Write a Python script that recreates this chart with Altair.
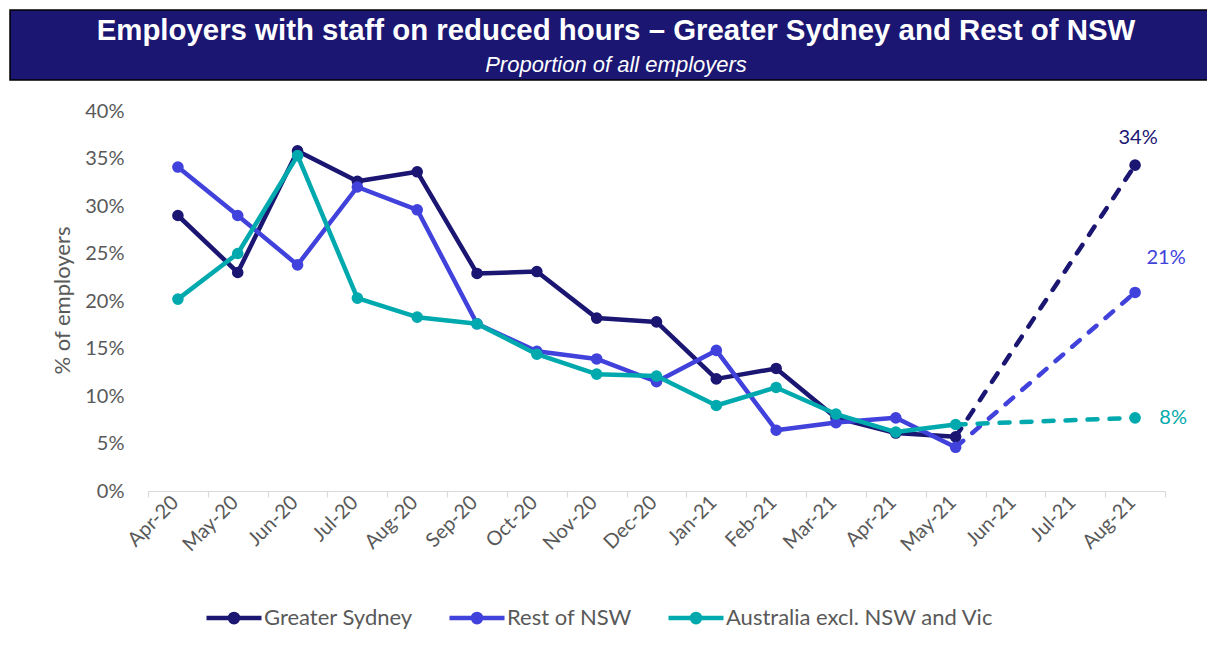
import altair as alt
import pandas as pd

months = ["Apr-20", "May-20", "Jun-20", "Jul-20", "Aug-20", "Sep-20", "Oct-20", "Nov-20",
          "Dec-20", "Jan-21", "Feb-21", "Mar-21", "Apr-21", "May-21", "Jun-21", "Jul-21", "Aug-21"]
series_names = ["Greater Sydney", "Rest of NSW", "Australia excl. NSW and Vic"]
greater_sydney = [29.0, 23.0, 35.8, 32.6, 33.6, 22.9, 23.1, 18.2, 17.8, 11.8, 12.9, 7.7, 6.1, 5.7, None, None, 34.3]
rest_of_nsw = [34.1, 29.0, 23.8, 32.0, 29.6, 17.6, 14.7, 13.9, 11.5, 14.8, 6.4, 7.2, 7.7, 4.6, None, None, 20.9]
australia = [20.2, 25.0, 35.3, 20.3, 18.3, 17.6, 14.4, 12.3, 12.1, 9.0, 10.9, 8.1, 6.2, 7.0, None, None, 7.7]
y_ticks = [0, 5, 10, 15, 20, 25, 30, 35, 40]

title_text = "Employers with staff on reduced hours \u2013 Greater Sydney and Rest of NSW"
subtitle_text = "Proportion of all employers"
y_title = "% of employers"

colors = ["#1A1672", "#4141DC", "#00A9AD"]
banner_color = "#1A1672"
gray = "#595959"
FONT = "Lato"

values = [greater_sydney, rest_of_nsw, australia]
rows = []
for name, vals in zip(series_names, values):
    for i, (m, v) in enumerate(zip(months, vals)):
        if v is not None:
            rows.append({"month": m, "series": name, "value": v, "idx": i})
df = pd.DataFrame(rows)
last_solid = months.index("May-21")

x_enc = alt.X("month:N", sort=months,
              scale=alt.Scale(domain=months, paddingInner=0, paddingOuter=0),
              axis=alt.Axis(title=None, tickBand="extent", tickSize=6, tickColor="#D9D9D9",
                            domainColor="#D9D9D9", domainWidth=1.2, tickWidth=1.2,
                            labelAngle=315, labelAlign="right", labelBaseline="middle",
                            labelPadding=2, labelOffset=-3, labelFont=FONT, labelFontSize=20,
                            labelColor=gray, grid=False))
y_enc = alt.Y("value:Q",
              scale=alt.Scale(domain=[0, 40], nice=False, zero=True),
              axis=alt.Axis(values=y_ticks, labelExpr="datum.value + '%'", grid=False,
                            domain=False, ticks=False, labelPadding=24, labelFont=FONT,
                            labelFontSize=20, labelColor=gray, title=y_title,
                            titleFont=FONT, titleFontSize=22, titleFontWeight="normal",
                            titleColor=gray, titleAngle=270, titleX=-86, titleY=189,
                            titleAlign="center", titleBaseline="middle"))
# legend symbol: a line with a dot across the whole symbol box
legend_path = ("M-1,0H1"
               "M0.15,0A0.15,0.15 0 1,1 -0.15,0A0.15,0.15 0 1,1 0.15,0"
               "M0.06,0A0.06,0.06 0 1,1 -0.06,0A0.06,0.06 0 1,1 0.06,0")
color_enc = alt.Color("series:N",
                      scale=alt.Scale(domain=series_names, range=colors),
                      legend=alt.Legend(title=None, orient="none", direction="horizontal",
                                        legendX=56, legendY=483, clipHeight=48,
                                        symbolType=legend_path,
                                        symbolSize=3025, symbolStrokeWidth=4.5,
                                        symbolOpacity=1, labelOffset=0, columnPadding=34,
                                        labelLimit=500,
                                        labelFont=FONT, labelFontSize=22, labelColor=gray))

label_offsets = {
    "Greater Sydney": (3, -27),
    "Rest of NSW": (31, -34),
    "Australia excl. NSW and Vic": (38, 0),
}

layers = []
# banner
banner_df = pd.DataFrame({"t": [title_text], "s": [subtitle_text]})
layers.append(alt.Chart(banner_df).mark_rect(color=banner_color, stroke="black", strokeWidth=1.5)
              .encode(x=alt.value(-138), x2=alt.value(1075), y=alt.value(-101), y2=alt.value(-31)))
layers.append(alt.Chart(banner_df).mark_text(font="Liberation Sans", fontWeight="bold", fontSize=29.4,
                                             color="white", baseline="middle", align="center")
              .encode(x=alt.value(468), y=alt.value(-80), text="t:N"))
layers.append(alt.Chart(banner_df).mark_text(font="Liberation Sans", fontStyle="italic", fontSize=22,
                                             color="white", baseline="middle", align="center")
              .encode(x=alt.value(468), y=alt.value(-46), text="s:N"))

for name, col in zip(series_names, colors):
    base = alt.Chart(df).transform_filter(alt.datum.series == name)
    solid = base.transform_filter(alt.datum.idx <= last_solid).mark_line(
        strokeWidth=4.5, strokeJoin="round").encode(x=x_enc, y=y_enc, color=color_enc)
    dashed = base.transform_filter(alt.datum.idx >= last_solid).mark_line(
        strokeWidth=4.5, strokeDash=[10, 12], strokeCap="round").encode(x=x_enc, y=y_enc, color=color_enc)
    pts = base.mark_point(filled=True, size=135, opacity=1).encode(x=x_enc, y=y_enc, color=color_enc)
    dx, dy = label_offsets[name]
    lab = base.transform_filter(alt.datum.month == "Aug-21").transform_calculate(
        lbl="format(datum.value, '.0f') + '%'").mark_text(
        font=FONT, fontSize=20, color=col, dx=dx, dy=dy, align="center", baseline="middle"
    ).encode(x=x_enc, y=y_enc, text="lbl:N")
    layers += [solid, dashed, pts, lab]

chart = alt.layer(*layers).properties(
    width=1017, height=380,
    autosize=alt.AutoSizeParams(type="none"),
    padding={"left": 140, "top": 103, "right": 42, "bottom": 138},
    background="white",
).configure_view(stroke=None)

chart.save("out.html", embed_options={"renderer": "svg", "actions": False})
